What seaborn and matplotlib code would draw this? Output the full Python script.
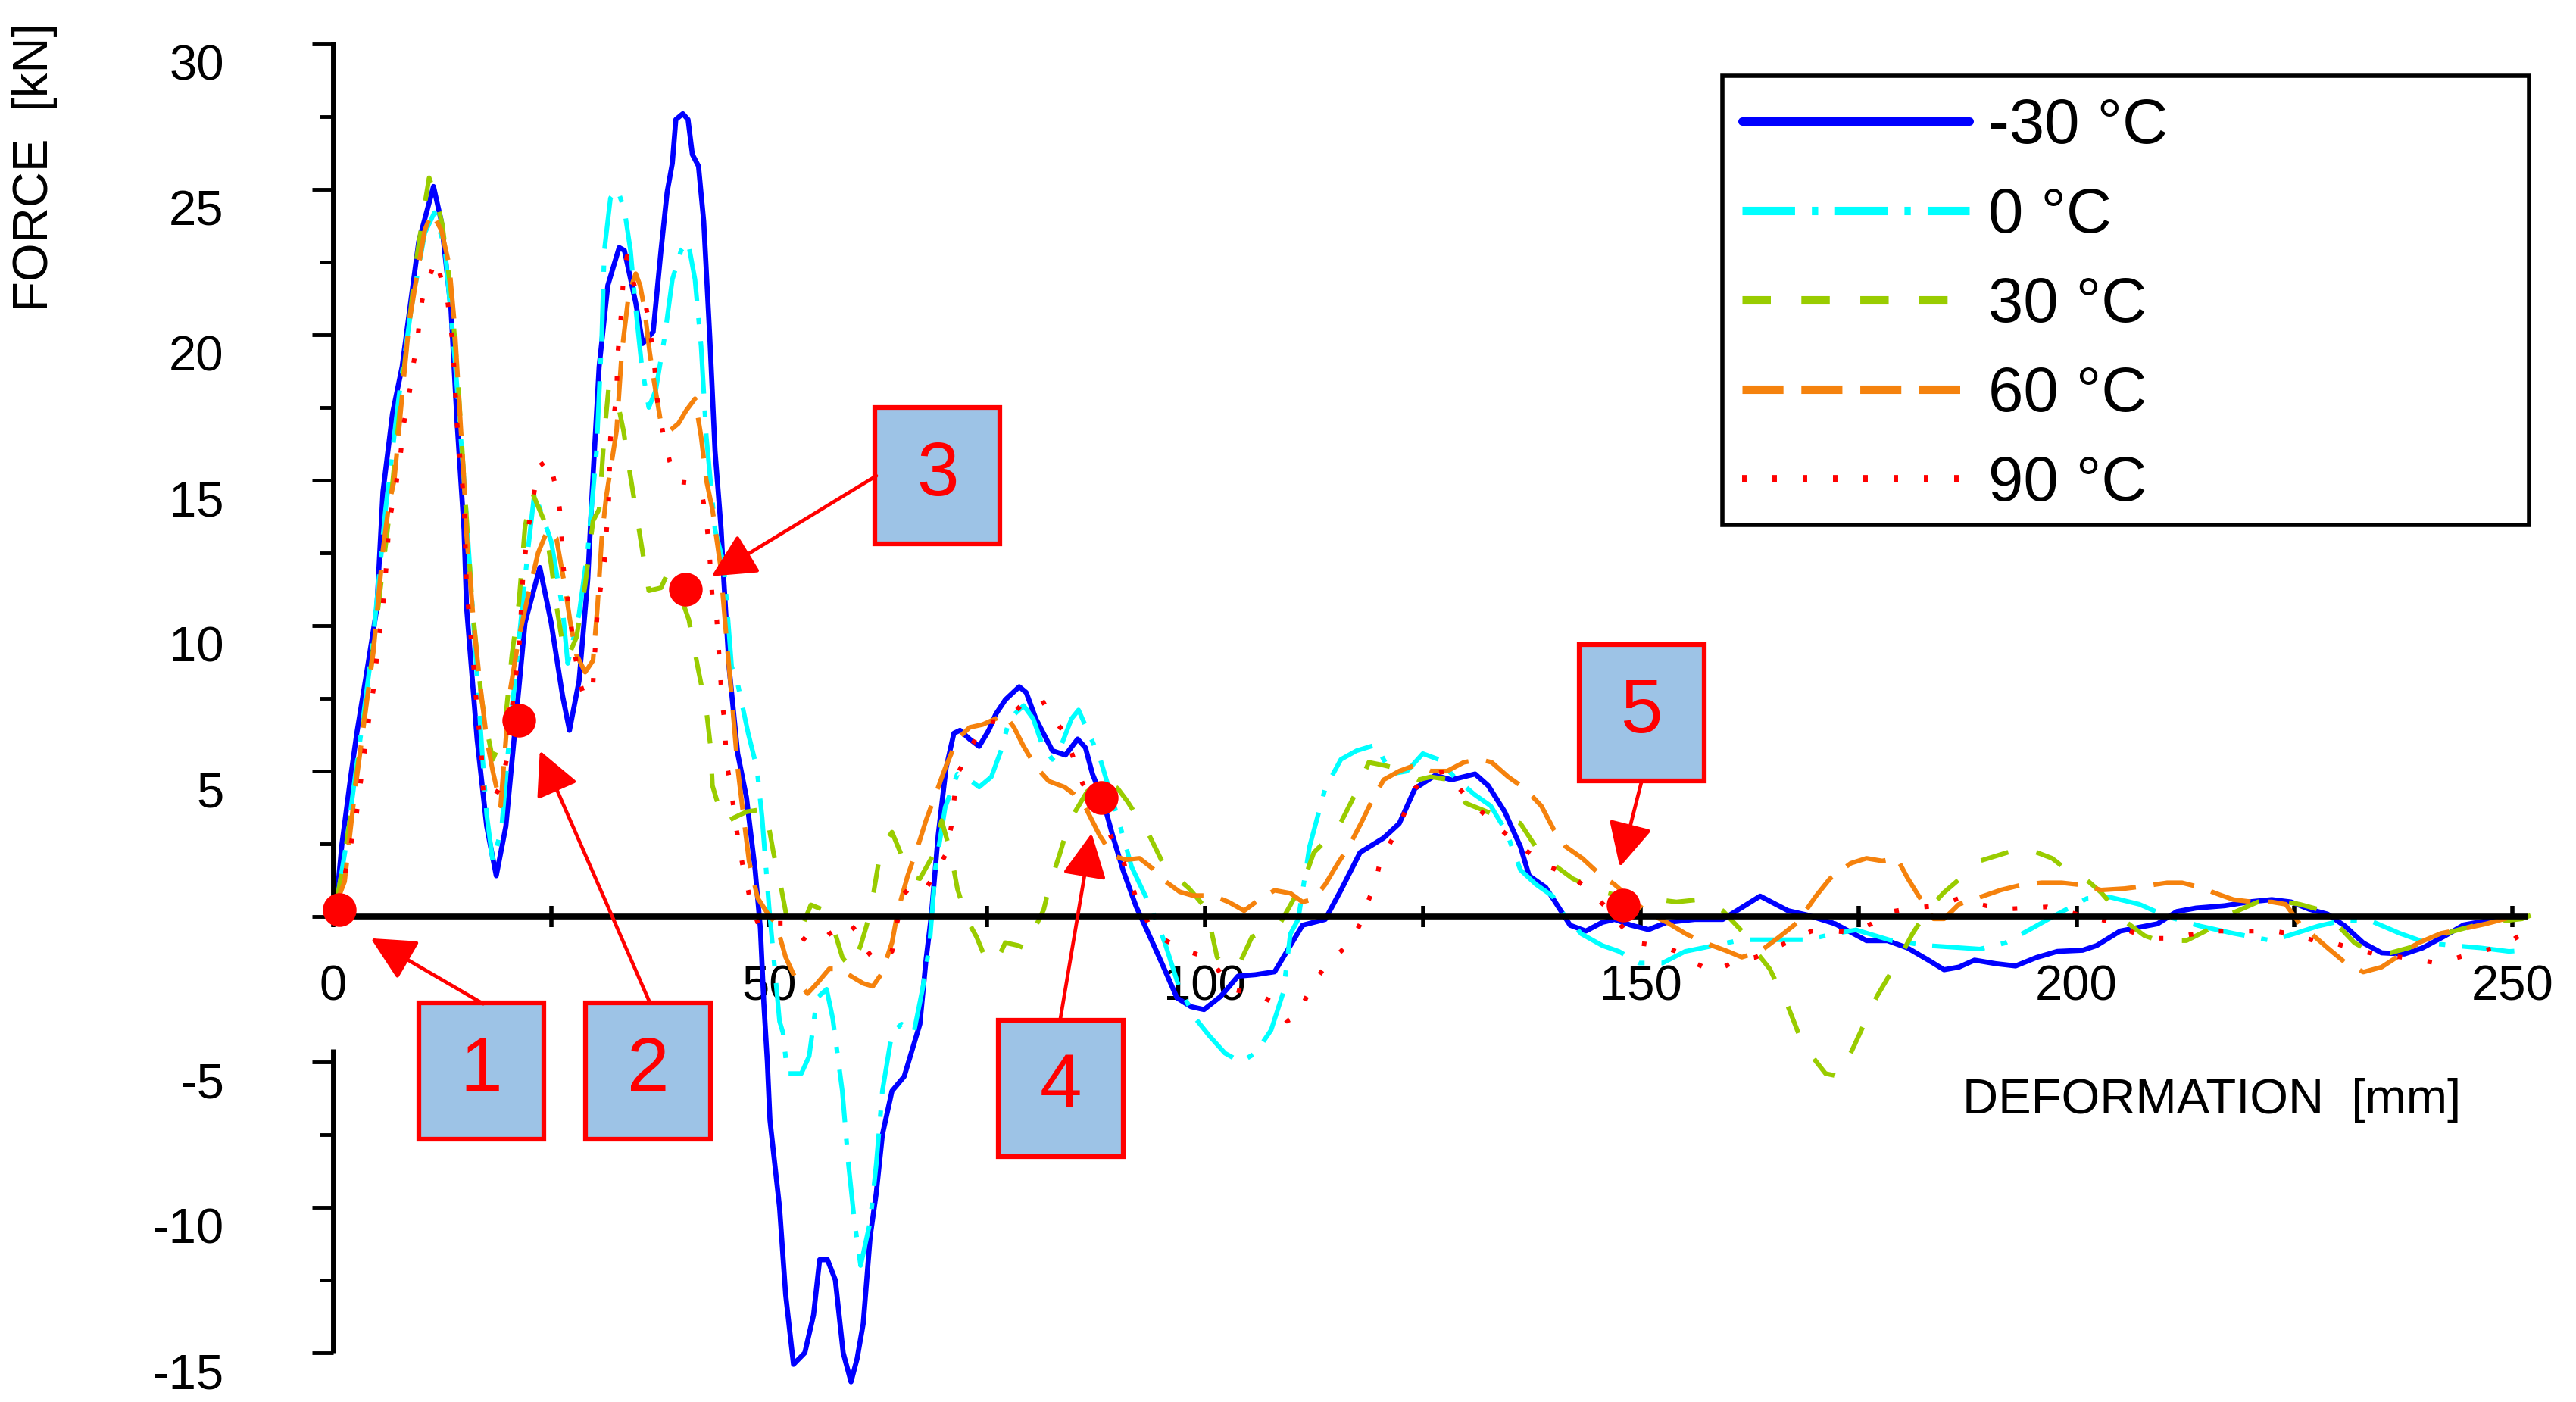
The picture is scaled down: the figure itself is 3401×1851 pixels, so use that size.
import matplotlib
matplotlib.use("Agg")
import matplotlib.pyplot as plt
from matplotlib import transforms
from matplotlib.lines import Line2D
from matplotlib.patches import Rectangle
import numpy as np
import pandas as pd
import seaborn as sns

# ---------------- data (deformation [mm], force [kN]) ----------------
labels = ['-30 °C', '0 °C', '30 °C', '60 °C', '90 °C']

m30 = [(0.3, 0.3), (1.0, 2.5), (2.0, 4.8), (2.7, 6.3), (4.0, 8.7), (5.0, 10.6), (5.7, 14.6), (6.8, 17.3),
       (7.9, 18.9), (9.8, 23.2), (11.5, 25.1), (12.4, 23.9), (13.5, 20.9), (14.2, 17.0), (15.0, 13.3),
       (15.3, 10.6), (16.5, 6.1), (17.6, 3.1), (18.7, 1.4), (19.8, 3.1), (20.9, 6.6), (22.0, 10.1),
       (23.7, 12.0), (25.0, 10.1), (26.3, 7.6), (27.1, 6.4), (28.2, 8.1), (29.2, 11.6), (29.7, 14.6),
       (30.5, 18.9), (31.5, 21.7), (32.8, 23.0), (33.4, 22.9), (34.7, 21.1), (35.5, 19.7), (36.7, 20.1),
       (37.6, 22.9), (38.3, 24.9), (38.9, 25.9), (39.3, 27.4), (40.1, 27.6), (40.7, 27.4), (41.2, 26.2),
       (41.9, 25.8), (42.5, 23.9), (43.2, 19.9), (43.8, 16.0), (44.5, 13.3), (44.8, 11.6), (45.4, 8.6),
       (46.4, 5.6), (47.4, 4.1), (48.4, 1.6), (49.0, -0.4), (49.4, -3.0), (49.8, -5.0), (50.1, -7.0),
       (51.2, -10.0), (51.9, -13.0), (52.8, -15.4), (54.1, -15.0), (55.1, -13.7), (55.8, -11.8),
       (56.7, -11.8), (57.6, -12.5), (58.5, -15.0), (59.4, -16.0), (60.1, -15.2), (60.8, -14.0),
       (61.6, -11.0), (62.3, -9.5), (63.0, -7.5), (64.1, -6.0), (65.5, -5.5), (66.2, -4.8), (67.3, -3.7),
       (68.0, -1.5), (68.6, 0.0), (69.4, 2.8), (70.3, 5.1), (71.2, 6.3), (71.9, 6.4), (73.0, 6.1),
       (74.1, 5.85), (75.2, 6.4), (76.0, 6.95), (77.1, 7.45), (78.7, 7.9), (79.5, 7.7), (80.6, 6.8),
       (82.5, 5.7), (84.0, 5.55), (85.4, 6.1), (86.3, 5.8), (87.1, 4.9), (88.3, 4.0), (89.4, 2.8),
       (90.6, 1.6), (92.1, 0.35), (93.7, -0.7), (95.2, -1.7), (96.8, -2.8), (98.4, -3.1), (99.9, -3.2),
       (101.8, -2.75), (103.8, -2.05), (105.8, -2.0), (108.0, -1.9), (109.4, -1.2), (111.2, -0.3),
       (113.8, -0.1), (115.6, 0.9), (117.8, 2.2), (120.5, 2.7), (122.3, 3.2), (124.1, 4.4), (126.4, 4.85),
       (128.3, 4.7), (131.0, 4.9), (132.5, 4.5), (134.4, 3.6), (136.2, 2.4), (137.2, 1.4), (139.1, 1.0),
       (140.4, 0.4), (141.9, -0.3), (143.7, -0.5), (145.6, -0.2), (147.0, -0.1), (148.9, -0.3),
       (150.9, -0.45), (153.0, -0.2), (156.2, -0.1), (159.4, -0.1), (163.7, 0.7), (166.9, 0.2),
       (169.1, 0.05), (172.3, -0.25), (175.9, -0.83), (178.3, -0.83), (180.6, -1.08), (183.0, -1.5),
       (184.8, -1.83), (186.5, -1.74), (188.3, -1.5), (190.7, -1.62), (193.0, -1.7), (195.4, -1.41),
       (197.8, -1.2), (200.7, -1.16), (202.3, -1.0), (205.0, -0.5), (207.2, -0.37), (209.3, -0.25),
       (211.5, 0.17), (213.7, 0.29), (217.0, 0.37), (219.7, 0.5), (222.4, 0.58), (224.6, 0.5),
       (226.7, 0.25), (228.8, 0.08), (230.8, -0.33), (232.9, -0.91), (235.0, -1.25), (237.6, -1.29),
       (239.7, -1.08), (242.3, -0.66), (244.4, -0.29), (247.5, -0.12), (250.6, -0.04)]

c0 = [(0.4, 0.5), (1.5, 2.5), (2.5, 4.8), (3.5, 7.0), (4.5, 9.3), (6.0, 14.0), (7.5, 17.8), (9.0, 21.0),
      (10.5, 23.5), (11.6, 24.2), (12.8, 23.0), (14.0, 19.0), (15.0, 15.0), (16.0, 10.5), (17.0, 6.0),
      (17.6, 3.5), (18.3, 1.9), (19.3, 3.0), (20.3, 6.5), (21.3, 9.5), (22.3, 12.5), (23.1, 14.6),
      (23.5, 14.2), (25.0, 12.9), (26.3, 10.6), (26.9, 8.7), (28.2, 10.4), (29.2, 12.6), (29.8, 14.6),
      (30.2, 16.0), (30.8, 19.9), (31.1, 22.9), (31.8, 24.7), (32.6, 25.0), (33.4, 24.3), (34.1, 22.9),
      (34.7, 20.9), (35.4, 18.9), (36.2, 17.5), (37.0, 18.1), (38.0, 19.9), (38.9, 21.9), (39.9, 22.9),
      (40.7, 23.2), (41.5, 21.9), (42.2, 19.6), (42.8, 16.5), (43.8, 13.3), (44.8, 12.1), (45.7, 8.6),
      (46.4, 8.0), (47.6, 6.3), (48.6, 5.1), (49.2, 3.4), (50.0, 0.3), (51.2, -3.6), (51.6, -4.0),
      (52.1, -5.4), (53.7, -5.4), (54.6, -4.8), (55.5, -2.8), (56.6, -2.5), (57.3, -3.5), (58.4, -6.0),
      (59.1, -8.5), (59.8, -10.5), (60.5, -12.0), (61.6, -10.5), (62.3, -8.5), (63.0, -6.0),
      (64.1, -4.0), (65.2, -3.7), (66.6, -4.0), (67.6, -2.5), (68.4, -1.0), (69.1, 1.7), (70.2, 3.75),
      (71.6, 4.9), (73.0, 4.7), (74.1, 4.45), (75.5, 4.8), (76.6, 5.7), (77.6, 6.8), (79.2, 7.25),
      (80.3, 6.8), (81.4, 5.85), (82.5, 5.4), (83.6, 5.95), (84.7, 6.8), (85.5, 7.1), (88.0, 5.4),
      (90.0, 3.4), (91.6, 1.7), (93.9, 0.25), (95.4, -0.9), (97.0, -2.4), (98.9, -3.5), (100.5, -4.1),
      (102.3, -4.7), (104.1, -5.0), (105.8, -4.7), (107.6, -3.9), (109.0, -2.6), (109.8, -0.6),
      (110.7, -0.1), (112.0, 2.4), (113.8, 4.4), (115.6, 5.4), (117.4, 5.7), (119.6, 5.9), (121.4, 4.9),
      (123.2, 5.0), (125.0, 5.6), (126.8, 5.4), (128.6, 4.8), (130.9, 4.2), (132.8, 3.8), (134.6, 2.9),
      (136.2, 1.6), (138.0, 1.1), (139.9, 0.7), (141.3, 0.0), (143.2, -0.6), (145.6, -1.0),
      (147.5, -1.2), (149.8, -1.6), (152.5, -1.6), (155.1, -1.2), (158.4, -1.0), (161.6, -0.8),
      (165.9, -0.8), (169.1, -0.8), (172.4, -0.58), (174.7, -0.46), (178.8, -0.83), (183.0, -1.0),
      (188.9, -1.12), (191.8, -0.91), (194.8, -0.42), (197.8, 0.08), (201.2, 0.62), (203.9, 0.66),
      (207.2, 0.42), (210.4, 0.0), (214.2, -0.33), (218.0, -0.58), (222.4, -0.83), (225.1, -0.58),
      (227.7, -0.33), (230.8, -0.12), (233.9, -0.17), (237.1, -0.58), (240.2, -0.91), (243.3, -1.0),
      (246.4, -1.08), (249.6, -1.2), (251.7, -1.16)]

g30 = [(0.4, 0.5), (1.5, 2.5), (2.5, 4.5), (3.5, 6.7), (4.5, 9.0), (5.5, 11.5), (6.5, 14.0), (8.0, 18.5),
       (9.5, 22.5), (10.5, 24.5), (11.0, 25.4), (11.7, 24.8), (12.5, 23.8), (13.5, 21.5), (14.3, 18.5),
       (15.0, 15.0), (16.0, 10.5), (17.0, 7.5), (17.5, 6.6), (18.3, 5.4), (19.6, 6.3), (20.5, 9.0),
       (21.3, 10.8), (22.0, 13.4), (22.8, 14.6), (24.2, 13.6), (25.0, 12.1), (25.6, 10.7), (26.3, 9.4),
       (26.9, 8.9), (27.9, 9.6), (28.9, 11.4), (29.8, 13.6), (30.5, 14.0), (31.1, 16.6), (31.6, 18.2),
       (32.6, 17.7), (33.3, 16.7), (33.9, 15.5), (34.7, 14.0), (35.6, 12.3), (36.2, 11.2), (37.6, 11.3),
       (38.2, 11.7), (39.5, 11.3), (40.8, 10.2), (41.8, 8.6), (42.8, 7.1), (43.3, 5.8), (43.5, 4.5),
       (44.8, 3.2), (46.0, 3.4), (47.4, 3.6), (49.6, 3.7), (50.5, 2.2), (51.4, 0.96), (52.2, -0.3),
       (53.7, -0.4), (54.8, 0.4), (56.2, 0.23), (57.3, -0.3), (58.4, -1.4), (59.4, -1.8), (60.5, -1.0),
       (61.2, -0.3), (62.0, 0.84), (62.7, 2.1), (63.4, 2.6), (64.1, 2.9), (65.2, 2.1), (66.2, 1.4),
       (67.3, 1.3), (68.8, 2.1), (69.8, 3.3), (70.9, 2.1), (71.6, 0.96), (72.7, -0.1), (73.8, -0.7),
       (74.9, -1.5), (76.0, -1.6), (77.1, -0.9), (78.6, -1.0), (79.4, -1.1), (80.4, -0.45), (81.5, 0.23),
       (82.3, 1.2), (83.3, 2.1), (84.5, 3.3), (86.5, 4.3), (88.5, 4.7), (90.0, 4.4), (91.1, 3.96),
       (93.6, 2.8), (95.4, 1.7), (98.2, 0.96), (100.2, 0.25), (101.4, -1.4), (102.5, -1.8), (104.0, -1.6),
       (105.4, -0.7), (108.5, -0.3), (110.2, 0.6), (111.2, 1.1), (112.5, 2.2), (115.2, 3.0), (117.4, 4.3),
       (118.8, 5.3), (120.5, 5.2), (121.9, 5.1), (124.5, 4.7), (125.9, 4.8), (128.1, 4.7), (129.9, 3.9),
       (133.2, 3.5), (136.2, 3.2), (138.6, 2.1), (140.4, 1.7), (142.2, 1.3), (145.1, 0.9), (147.5, 0.7),
       (149.4, 0.6), (151.4, 0.6), (154.1, 0.5), (157.3, 0.6), (159.4, 0.2), (161.6, -0.5), (163.2, -1.2),
       (164.8, -1.8), (166.9, -3.1), (168.6, -4.4), (171.2, -5.4), (172.8, -5.5), (174.4, -4.5),
       (177.1, -2.74), (179.4, -1.58), (181.2, -0.58), (183.0, 0.25), (184.8, 0.83), (187.7, 1.58),
       (188.9, 1.91), (192.5, 2.24), (193.6, 2.41), (197.2, 2.0), (198.3, 1.74), (201.2, 1.25),
       (202.8, 0.83), (204.5, 0.25), (205.6, -0.17), (207.8, -0.66), (209.4, -0.83), (212.6, -0.83),
       (214.8, -0.5), (217.0, 0.0), (220.8, 0.5), (222.4, 0.58), (225.6, 0.42), (227.7, 0.25),
       (229.8, -0.25), (231.9, -0.91), (234.0, -1.25), (236.0, -1.25), (238.1, -1.08), (240.7, -0.75),
       (243.3, -0.5), (245.9, -0.29), (248.5, -0.17), (251.1, -0.08), (252.1, 0.04)]

o60 = [(0.4, 0.5), (1.3, 1.2), (2.4, 4.1), (3.5, 6.6), (4.6, 9.1), (5.7, 12.6), (6.4, 14.2), (7.0, 15.0),
       (7.9, 17.9), (8.7, 20.4), (9.8, 22.4), (10.5, 23.6), (11.3, 24.2), (12.4, 23.6), (13.3, 22.4),
       (13.9, 20.4), (14.4, 17.9), (15.0, 15.0), (15.3, 13.1), (16.1, 10.1), (16.8, 8.1), (17.6, 6.1),
       (18.3, 5.0), (19.2, 3.8), (20.2, 7.6), (21.3, 9.6), (22.4, 11.1), (23.5, 12.5), (24.6, 13.3),
       (25.6, 13.0), (26.6, 11.3), (27.2, 10.1), (27.9, 9.0), (28.9, 8.4), (29.8, 8.8), (30.3, 10.6),
       (30.8, 13.0), (31.3, 14.4), (32.5, 16.7), (33.1, 19.4), (33.9, 21.4), (34.7, 22.1), (35.2, 21.7),
       (35.7, 20.9), (36.3, 19.4), (36.8, 18.4), (37.6, 16.95), (38.6, 16.7), (39.6, 16.95), (40.5, 17.4),
       (41.5, 17.8), (42.2, 16.5), (42.8, 15.0), (43.5, 14.0), (44.4, 12.1), (45.1, 9.6), (45.7, 7.6),
       (46.4, 5.1), (47.0, 3.6), (47.7, 1.9), (48.7, 0.63), (50.0, 0.03), (50.8, -0.23), (51.9, -1.4),
       (52.9, -2.05), (54.4, -2.65), (55.5, -2.3), (56.9, -1.8), (58.3, -1.8), (59.4, -2.05),
       (60.8, -2.3), (61.9, -2.4), (62.9, -1.97), (64.1, -0.9), (64.8, 0.23), (65.9, 1.4), (67.0, 2.35),
       (68.0, 3.3), (69.1, 4.2), (70.2, 5.1), (71.6, 6.1), (73.0, 6.5), (74.5, 6.6), (76.0, 6.8),
       (77.0, 6.95), (78.1, 6.5), (79.2, 5.85), (80.6, 5.15), (82.1, 4.65), (83.9, 4.45), (85.0, 4.2),
       (86.3, 3.75), (87.9, 2.8), (89.4, 2.1), (90.9, 1.95), (92.5, 2.0), (94.0, 1.65), (95.5, 1.2),
       (97.1, 0.85), (98.6, 0.72), (100.9, 0.72), (102.7, 0.5), (104.5, 0.2), (106.3, 0.6), (108.0, 0.9),
       (109.8, 0.8), (111.2, 0.5), (112.5, 0.6), (113.8, 1.1), (115.2, 1.8), (116.5, 2.4), (117.9, 3.2),
       (119.2, 4.0), (120.5, 4.7), (122.3, 5.0), (124.1, 5.2), (125.9, 5.0), (127.8, 5.0), (129.7, 5.3),
       (131.5, 5.4), (132.9, 5.3), (134.8, 4.8), (136.7, 4.4), (138.6, 3.8), (140.0, 3.0), (141.4, 2.4),
       (143.3, 2.0), (145.1, 1.5), (147.0, 1.1), (148.9, 0.6), (150.9, 0.1), (153.0, -0.2), (155.2, -0.6),
       (157.3, -0.9), (160.0, -1.2), (161.6, -1.4), (163.7, -1.2), (165.9, -0.7), (168.0, -0.2),
       (170.1, 0.7), (171.7, 1.3), (174.1, 1.83), (175.9, 2.0), (177.7, 1.91), (179.4, 2.0), (180.6, 1.33),
       (181.8, 0.75), (183.6, -0.08), (184.8, -0.08), (186.5, 0.42), (188.9, 0.66), (191.3, 0.91),
       (193.6, 1.08), (196.0, 1.16), (198.3, 1.16), (200.7, 1.08), (202.8, 0.91), (205.5, 0.96),
       (207.7, 1.04), (210.4, 1.16), (212.1, 1.16), (214.2, 1.0), (216.4, 0.75), (218.0, 0.58),
       (220.2, 0.5), (222.4, 0.5), (224.0, 0.42), (225.6, -0.25), (227.2, -0.66), (228.8, -1.08),
       (230.8, -1.58), (232.9, -1.91), (235.0, -1.74), (237.1, -1.33), (239.2, -0.91), (241.8, -0.58),
       (244.4, -0.42), (247.0, -0.25), (249.6, -0.04), (251.1, 0.08)]

r90 = [(0.4, 0.5), (1.1, 1.1), (1.8, 2.1), (2.7, 3.6), (3.3, 5.0), (3.9, 6.4), (4.6, 7.8), (5.1, 9.2),
       (5.7, 10.7), (6.1, 12.1), (6.4, 13.5), (6.8, 14.2), (7.2, 14.85), (7.6, 15.55), (8.1, 16.95),
       (8.5, 17.6), (8.9, 18.3), (9.2, 19.0), (9.6, 19.7), (10.2, 21.2), (10.9, 21.9), (11.8, 22.6),
       (12.4, 21.9), (13.1, 21.2), (13.7, 19.7), (14.2, 16.95), (14.6, 15.55), (15.0, 14.2), (15.3, 11.3),
       (15.7, 9.9), (16.1, 8.6), (16.5, 7.1), (17.0, 5.6), (17.2, 4.3), (18.1, 3.9), (19.4, 4.6),
       (20.0, 5.6), (20.7, 7.7), (21.3, 9.1), (21.8, 11.9), (22.4, 13.4), (22.8, 14.1), (23.5, 15.45),
       (24.8, 15.75), (25.3, 15.05), (25.8, 14.4), (26.1, 13.7), (26.4, 12.0), (26.9, 10.9), (27.5, 9.5),
       (28.2, 8.1), (28.9, 7.5), (29.8, 8.0), (30.3, 10.5), (31.1, 12.2), (31.6, 14.3), (31.8, 16.45),
       (32.5, 17.85), (32.6, 19.2), (33.0, 20.6), (33.3, 22.0), (33.7, 22.7), (34.7, 21.5), (35.7, 21.2),
       (36.2, 20.5), (36.8, 19.1), (37.2, 17.7), (37.6, 17.0), (38.0, 16.35), (38.6, 15.65), (39.4, 14.95),
       (41.2, 14.9), (42.4, 14.35), (42.8, 13.7), (43.2, 12.3), (43.5, 10.9), (44.0, 10.2), (44.3, 8.8),
       (44.6, 7.4), (44.9, 6.7), (45.1, 5.3), (45.6, 4.5), (45.9, 3.8), (46.2, 3.1), (46.6, 2.4),
       (47.0, 1.7), (48.0, 0.35), (49.0, -0.45), (50.5, -0.23), (52.2, -0.23), (53.3, -0.6), (54.3, -0.85),
       (55.8, -0.9), (56.9, -0.6), (58.0, -0.4), (59.0, -0.17), (60.3, -0.6), (61.2, -1.16), (62.2, -1.55),
       (64.1, -1.2), (64.4, -0.55), (65.5, 0.78), (66.6, 1.13), (68.0, 0.96), (69.1, 1.5), (70.2, 2.1),
       (70.9, 3.1), (71.3, 4.2), (71.6, 4.9), (72.7, 5.5), (73.8, 6.2), (74.9, 6.7), (76.6, 6.7),
       (78.1, 7.0), (79.5, 7.45), (81.3, 7.45), (82.5, 6.8), (83.7, 6.4), (84.4, 5.9), (85.2, 5.2),
       (86.0, 4.55), (87.1, 4.1), (88.3, 3.4), (89.3, 2.7), (90.5, 2.0), (92.0, 0.73), (93.5, -0.23),
       (94.7, -0.7), (95.8, -0.87), (97.7, -1.16), (100.6, -1.45), (103.1, -2.5), (106.3, -2.7),
       (108.0, -3.0), (109.4, -3.6), (110.7, -3.4), (111.6, -2.8), (112.9, -2.1), (114.3, -1.5),
       (115.6, -1.2), (116.9, -0.8), (117.9, -0.2), (118.7, 0.5), (119.6, 1.2), (120.1, 1.9), (121.2, 2.5),
       (122.3, 3.1), (123.2, 3.8), (124.1, 4.4), (125.9, 4.9), (127.8, 5.0), (129.2, 4.4), (130.6, 3.9),
       (132.5, 3.4), (133.9, 3.0), (135.8, 2.5), (137.6, 2.1), (139.5, 1.7), (141.4, 1.5), (143.3, 1.1),
       (144.7, 0.7), (146.1, 0.3), (148.0, -0.4), (149.3, -0.9), (152.0, -1.0), (154.1, -1.2),
       (156.2, -1.6), (158.4, -1.9), (161.1, -1.5), (163.2, -1.4), (165.3, -1.1), (167.4, -0.8),
       (169.6, -0.5), (172.0, -0.5), (174.1, -0.54), (176.5, -0.25), (178.8, 0.17), (181.2, 0.29),
       (183.9, 0.37), (186.5, 0.62), (188.9, 0.42), (191.5, 0.25), (194.2, 0.29), (196.6, 0.33),
       (198.9, 0.17), (201.5, -0.04), (203.9, -0.17), (206.1, -0.5), (208.2, -0.75), (210.7, -0.75),
       (213.1, -0.62), (215.6, -0.5), (218.0, -0.5), (220.2, -0.5), (222.6, -0.5), (225.1, -0.62),
       (227.2, -0.83), (229.5, -0.91), (231.9, -1.12), (234.2, -1.29), (236.5, -1.37), (238.6, -1.45),
       (240.9, -1.58), (243.3, -1.45), (245.6, -1.25), (248.0, -1.08), (250.1, -0.79), (252.1, -0.42)]

series = [m30, c0, g30, o60, r90]

# marked events and their numbered callouts
event_x = [0.7, 21.3, 40.4, 88.1, 148.0]
event_y = [0.23, 6.75, 11.25, 4.1, 0.4]
box_text = ['1', '2', '3', '4', '5']
box_x = [17.0, 36.1, 69.3, 83.5, 150.1]
box_y = [-5.3, -5.3, 15.15, -5.9, 7.0]
arrow_from = [(17.2, -3.0), (36.3, -2.95), (62.3, 15.15), (83.4, -3.55), (150.1, 4.65)]
arrow_to = [(4.3, -0.75), (23.7, 5.7), (43.4, 11.7), (87.0, 2.86), (147.6, 1.7)]

ytick_vals = [-15, -10, -5, 0, 5, 10, 15, 20, 25, 30]
ytick_text = ['-15', '-10', '-5', '', '5', '10', '15', '20', '25', '30']
yminor_vals = [-12.5, -7.5, 2.5, 7.5, 12.5, 17.5, 22.5, 27.5]
xtick_vals = [0, 25, 50, 75, 100, 125, 150, 175, 200, 225, 250]
xtick_text = ['0', '', '50', '', '100', '', '150', '', '200', '', '250']

# ---------------- styling ----------------
colors = ['#0000FF', '#00FFFF', '#99CC00', '#F5820D', '#FF0000']
widths = [4.8, 4.4, 4.4, 4.4, 4.4]
dash_patterns = [None, (50, 16, 6, 16), (27, 29), (39, 17), (4.3, 24.5)]

sns.set_style('white')
plt.rcParams['font.family'] = ['Liberation Sans', 'DejaVu Sans']
plt.rcParams['lines.scale_dashes'] = False
plt.rcParams['text.color'] = 'black'

W_PX, H_PX = 3401, 1851
fig = plt.figure(figsize=(W_PX / 100, H_PX / 100), dpi=100)

# axes placed so that x=0 sits at 440 px, 11.508 px/mm; y=0 at 1210 px, 38.4 px/kN
x0, x1, y0, y1 = -3, 255, -16.5, 30.5
px_mm, px_kn = 11.508, 38.4
left = 440 + x0 * px_mm
ax = fig.add_axes([left / W_PX, 1 - (1210 - y0 * px_kn) / H_PX,
                   (x1 - x0) * px_mm / W_PX, (y1 - y0) * px_kn / H_PX])
ax.set_xlim(x0, x1)
ax.set_ylim(y0, y1)
ax.patch.set_alpha(0)

for pts, lab, col, lw, dash in zip(series, labels, colors, widths, dash_patterns):
    df = pd.DataFrame(pts, columns=['mm', 'kN'])
    sns.lineplot(data=df, x='mm', y='kN', ax=ax, color=col, lw=lw,
                 sort=False, estimator=None, legend=False)
    line = ax.lines[-1]
    if dash is not None:
        line.set_dashes(dash)
        line.set_dash_capstyle('butt')

# axes lines through the origin
for side in ['top', 'right']:
    ax.spines[side].set_visible(False)
ax.spines['left'].set_position(('data', 0))
ax.spines['left'].set_bounds(0, 30)
ax.spines['left'].set_linewidth(5)
ax.spines['left'].set_color('black')
ax.spines['bottom'].set_position(('data', 0))
ax.spines['bottom'].set_bounds(0, 251.5)
ax.spines['bottom'].set_linewidth(5.5)
ax.spines['bottom'].set_color('black')
# lower part of the force axis (broken between 0 and -5)
ax.plot([0, 0], [-15, -4.55], color='black', lw=5, solid_capstyle='butt')

ax.set_yticks(ytick_vals, labels=ytick_text)
ax.set_yticks(yminor_vals, minor=True)
ax.set_xticks(xtick_vals, labels=xtick_text)
ax.tick_params(axis='y', which='major', direction='out', length=20, width=3.5,
               labelsize=47, pad=84, colors='black', left=True)
ax.tick_params(axis='y', which='minor', direction='out', length=13, width=3.5,
               colors='black', left=True)
ax.tick_params(axis='x', which='major', direction='inout', length=20, width=4,
               labelsize=47, pad=36, colors='black', bottom=True)
ax.set_xlabel('')
ax.set_ylabel('')

shift = transforms.ScaledTranslation(0, -17 / 72, fig.dpi_scale_trans)
for t in ax.get_yticklabels():
    t.set_transform(t.get_transform() + shift)

# events and callouts
ax.plot(event_x, event_y, 'o', color='#FF0000', ms=32, mec='none', zorder=6)
bw, bh = 165 / px_mm, 180 / px_kn
for bx, by, txt in zip(box_x, box_y, box_text):
    ax.add_patch(Rectangle((bx - bw / 2, by - bh / 2), bw, bh, facecolor='#9DC3E6',
                           edgecolor='#FF0000', lw=4.5, zorder=7))
    ax.text(bx, by, txt, color='#FF0000', fontsize=72, ha='center', va='center', zorder=8)
for (tx, ty), (hx, hy) in zip(arrow_from, arrow_to):
    ax.annotate('', xy=(hx, hy), xytext=(tx, ty), zorder=7,
                arrowprops=dict(arrowstyle='-|>,head_length=0.6,head_width=0.3',
                                color='#FF0000', lw=3.4, mutation_scale=60,
                                shrinkA=0, shrinkB=0))

# axis titles
fig.text(46 / W_PX, 1 - 221 / H_PX, 'FORCE  [kN]', rotation=90, ha='center', va='center', fontsize=47)
fig.text(2920 / W_PX, 1 - 1453 / H_PX, 'DEFORMATION  [mm]', ha='center', va='center', fontsize=47)

# legend inside a wide frame
handles = []
for col, dash in zip(colors, dash_patterns):
    h = Line2D([], [], color=col, lw=8 if dash is None or dash[0] > 10 else 7)
    if dash is not None:
        h.set_dashes(dash)
    handles.append(h)
ax.legend(handles, labels, loc='upper left', bbox_to_anchor=(2300 / W_PX, 1 - 128 / H_PX),
          bbox_transform=fig.transFigure, frameon=False, fontsize=60, handlelength=3.6,
          handletextpad=0.3, labelspacing=0.48, borderpad=0, borderaxespad=0)
fig.add_artist(Rectangle((2274 / W_PX, 1 - 693 / H_PX), 1065 / W_PX, 593 / H_PX,
                         transform=fig.transFigure, fill=False, ec='black', lw=4))

fig.savefig('out.png', dpi=100)
